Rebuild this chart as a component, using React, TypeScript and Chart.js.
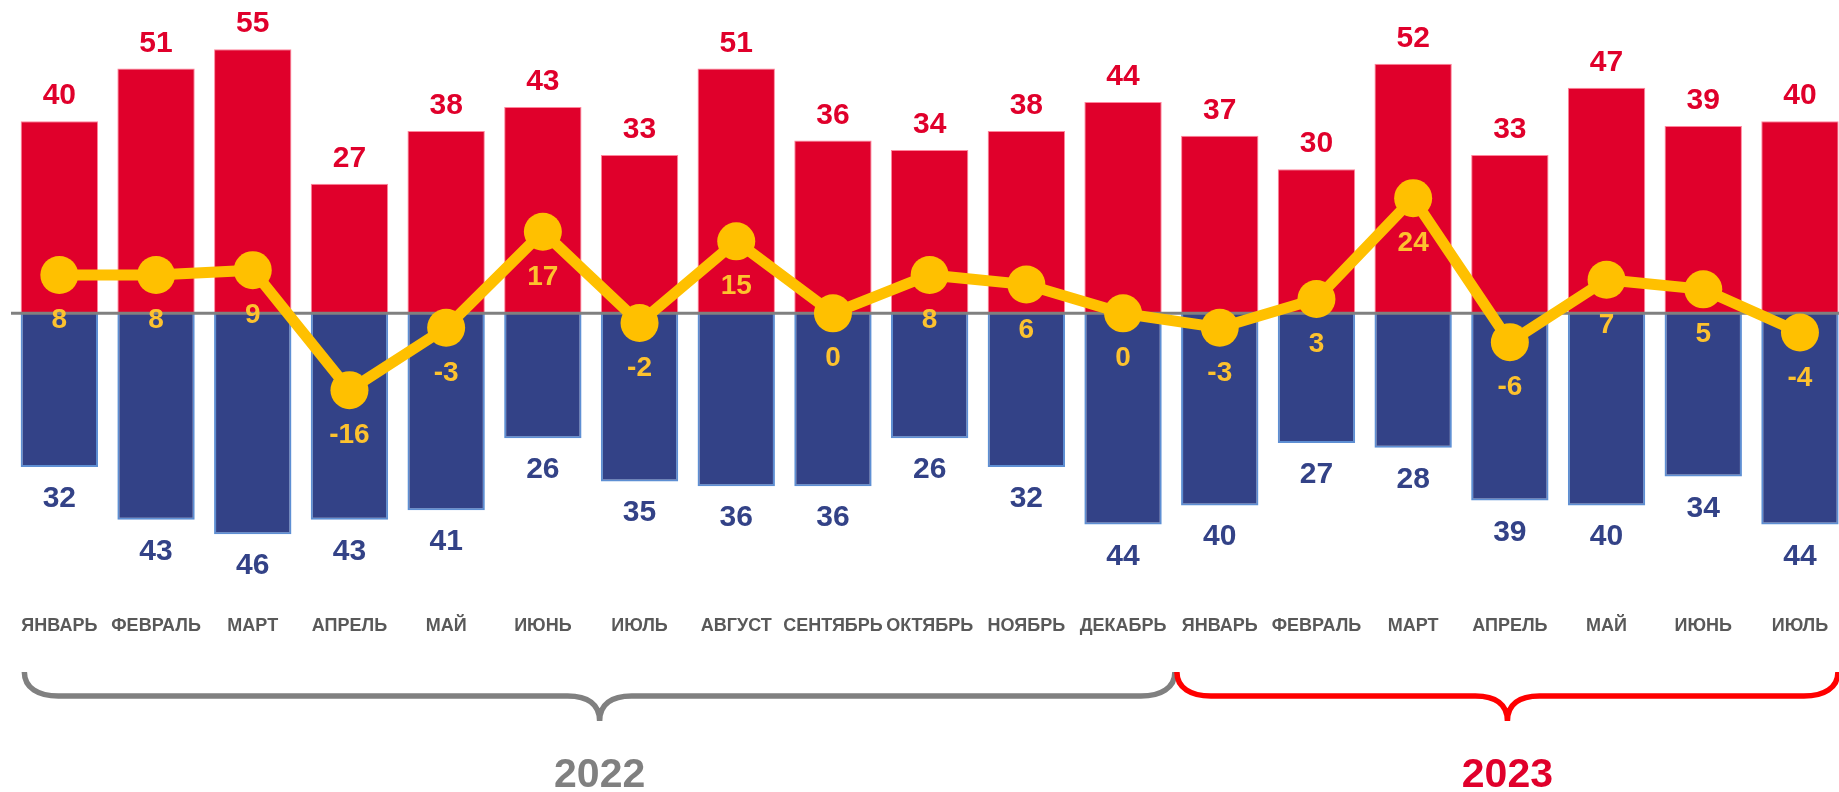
import React, { useEffect, useRef } from "react";
import { Chart, registerables } from "chart.js";

Chart.register(...registerables);

const months = [
  "ЯНВАРЬ", "ФЕВРАЛЬ", "МАРТ", "АПРЕЛЬ", "МАЙ", "ИЮНЬ", "ИЮЛЬ", "АВГУСТ",
  "СЕНТЯБРЬ", "ОКТЯБРЬ", "НОЯБРЬ", "ДЕКАБРЬ",
  "ЯНВАРЬ", "ФЕВРАЛЬ", "МАРТ", "АПРЕЛЬ", "МАЙ", "ИЮНЬ", "ИЮЛЬ",
];
const redValues = [40, 51, 55, 27, 38, 43, 33, 51, 36, 34, 38, 44, 37, 30, 52, 33, 47, 39, 40];
const blueValues = [32, 43, 46, 43, 41, 26, 35, 36, 36, 26, 32, 44, 40, 27, 28, 39, 40, 34, 44];
const netValues = [8, 8, 9, -16, -3, 17, -2, 15, 0, 8, 6, 0, -3, 3, 24, -6, 7, 5, -4];
const yearLabels = ["2022", "2023"];
const yearStart = [0, 12];
const yearEnd = [11, 18];

const RED = "rgb(224,0,43)";
const BLUE = "#334287";
const YELLOW = "#FFC000";
const GRAY = "#808080";
const BRACE_RED = "#FF0000";
const FONT = "'Liberation Sans', Arial, Helvetica, sans-serif";

function drawBrace(ctx: CanvasRenderingContext2D, x1: number, x2: number, color: string) {
  const yTop = 672;
  const yLine = 696;
  const yTip = 721;
  const xm = (x1 + x2) / 2;
  ctx.save();
  ctx.strokeStyle = color;
  ctx.lineWidth = 5.5;
  ctx.lineCap = "butt";
  ctx.beginPath();
  ctx.moveTo(x1, yTop);
  ctx.bezierCurveTo(x1, yLine - 8, x1 + 14, yLine, x1 + 34, yLine);
  ctx.lineTo(xm - 32, yLine);
  ctx.bezierCurveTo(xm - 12, yLine, xm, yLine + 8, xm, yTip);
  ctx.moveTo(xm, yTip);
  ctx.bezierCurveTo(xm, yLine + 8, xm + 12, yLine, xm + 32, yLine);
  ctx.lineTo(x2 - 34, yLine);
  ctx.bezierCurveTo(x2 - 14, yLine, x2, yLine - 8, x2, yTop);
  ctx.stroke();
  ctx.restore();
}

const overlayPlugin = {
  id: "overlay",
  beforeDatasetDraw(chart: any, args: any) {
    if (args.index !== 2) return;
    const { ctx, chartArea } = chart;
    const y0 = chart.scales.y.getPixelForValue(0);
    ctx.save();
    ctx.strokeStyle = GRAY;
    ctx.lineWidth = 3;
    ctx.beginPath();
    ctx.moveTo(chartArea.left, y0);
    ctx.lineTo(chartArea.right, y0);
    ctx.stroke();
    ctx.restore();
  },
  afterDatasetsDraw(chart: any) {
    const ctx: CanvasRenderingContext2D = chart.ctx;
    const redMeta = chart.getDatasetMeta(0);
    const blueMeta = chart.getDatasetMeta(1);
    const lineMeta = chart.getDatasetMeta(2);
    ctx.save();
    ctx.textAlign = "center";
    ctx.textBaseline = "alphabetic";
    ctx.font = `bold 30px ${FONT}`;
    ctx.fillStyle = RED;
    redMeta.data.forEach((el: any, i: number) => {
      ctx.fillText(String(redValues[i]), el.x, el.y - 17);
    });
    ctx.fillStyle = BLUE;
    blueMeta.data.forEach((el: any, i: number) => {
      ctx.fillText(String(blueValues[i]), el.x, el.y + 40);
    });
    ctx.font = `bold 28px ${FONT}`;
    ctx.fillStyle = "#FDC22E";
    lineMeta.data.forEach((el: any, i: number) => {
      ctx.fillText(String(netValues[i]), el.x, el.y + 53);
    });
    ctx.restore();
  },
  afterDraw(chart: any) {
    const ctx: CanvasRenderingContext2D = chart.ctx;
    const xs = chart.scales.x;
    const colors = [GRAY, BRACE_RED];
    const textColors = [GRAY, RED];
    yearLabels.forEach((label, k) => {
      const s = yearStart[k];
      const e = yearEnd[k];
      const left = k === 0 ? xs.getPixelForValue(s) - 35 : (xs.getPixelForValue(s - 1) + xs.getPixelForValue(s)) / 2 + 5.5;
      const right = k === yearLabels.length - 1 ? xs.getPixelForValue(e) + 38 : (xs.getPixelForValue(e) + xs.getPixelForValue(e + 1)) / 2 + 3.5;
      drawBrace(ctx, left, right, colors[k]);
      ctx.save();
      ctx.font = `bold 41px ${FONT}`;
      ctx.fillStyle = textColors[k];
      ctx.textAlign = "center";
      ctx.textBaseline = "alphabetic";
      ctx.fillText(label, (left + right) / 2, 787);
      ctx.restore();
    });
  },
};

export default function App() {
  const canvasRef = useRef<HTMLCanvasElement | null>(null);

  useEffect(() => {
    if (!canvasRef.current) return;
    const chart = new Chart(canvasRef.current, {
      type: "bar",
      data: {
        labels: months,
        datasets: [
          {
            type: "bar",
            label: "red",
            data: redValues,
            backgroundColor: RED,
            borderColor: "rgba(255,120,145,0.9)",
            borderWidth: 1,
            barPercentage: 0.8,
            categoryPercentage: 1,
            grouped: false,
            order: 2,
          } as any,
          {
            type: "bar",
            label: "blue",
            data: blueValues.map((v) => -v),
            backgroundColor: BLUE,
            borderColor: "#5E8FD3",
            borderWidth: 2,
            barPercentage: 0.8,
            categoryPercentage: 1,
            grouped: false,
            order: 1,
          } as any,
          {
            type: "line",
            label: "net",
            data: netValues,
            borderColor: YELLOW,
            borderWidth: 11,
            backgroundColor: YELLOW,
            pointRadius: 19,
            pointBorderWidth: 0,
            pointBackgroundColor: YELLOW,
            tension: 0,
            clip: false,
            order: 0,
          } as any,
        ],
      },
      options: {
        animation: false,
        responsive: true,
        maintainAspectRatio: false,
        layout: { autoPadding: false, padding: { top: 1.3, left: 11, right: 11.7, bottom: 141 } },
        plugins: {
          legend: { display: false },
          tooltip: { enabled: false },
        },
        scales: {
          x: {
            offset: true,
            grid: { display: false, drawTicks: false },
            border: { display: false },
            ticks: {
              color: "#595959",
              padding: 14,
              font: { family: FONT, size: 18, weight: "bold" },
              maxRotation: 0,
              autoSkip: false,
            },
          },
          y: {
            display: false,
            min: -60,
            max: 65,
          },
        },
      },
      plugins: [overlayPlugin],
    });
    return () => chart.destroy();
  }, []);

  return (
    <div
      style={{
        position: "fixed",
        left: 0,
        top: 0,
        width: "100vw",
        height: 792,
        overflow: "hidden",
        background: "#ffffff",
      }}
    >
      <div style={{ position: "relative", width: 1860, height: 792 }}>
        <canvas ref={canvasRef} />
      </div>
    </div>
  );
}
